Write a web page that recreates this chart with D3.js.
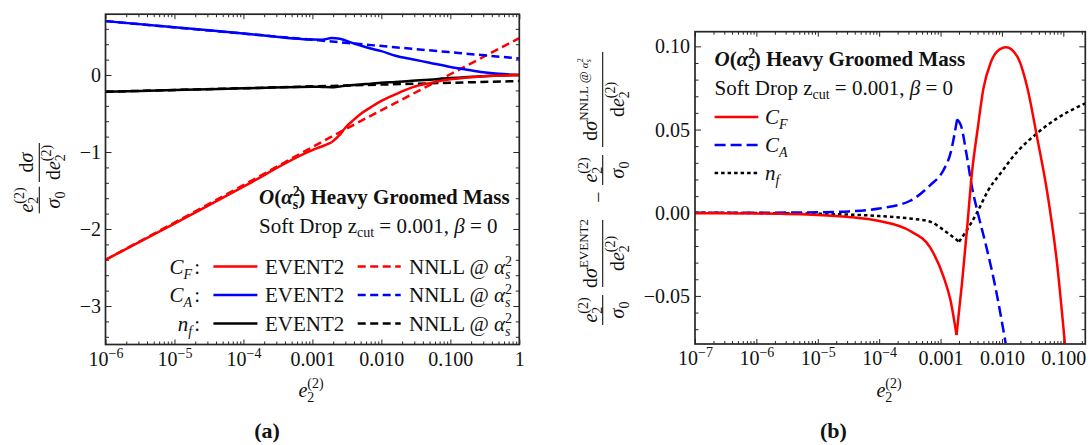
<!DOCTYPE html>
<html><head><meta charset="utf-8">
<script src="https://cdn.jsdelivr.net/npm/d3@7"></script>
<style>
body{margin:0;background:#fff;}
svg{display:block;}
</style></head><body>
<svg id="c" width="1088" height="445"></svg>
<script>
// ---------------- DATA ----------------
// Panel (a): e2 sample points and curves
const leftE2   = [1e-6, 1e-5, 1e-4, 0.001, 0.0014, 0.0019, 0.0025, 0.003, 0.004, 0.005, 0.007, 0.01, 0.016, 0.028, 0.05, 0.1, 0.16, 0.3, 0.5, 1];
const cfEvent2 = [-2.40, -1.93, -1.45, -0.975, -0.925, -0.875, -0.775, -0.685, -0.58, -0.505, -0.42, -0.335, -0.25, -0.16, -0.105, -0.055, -0.035, -0.015, -0.006, 0];
const caEvent2 = [0.70, 0.62, 0.54, 0.46, 0.458, 0.48, 0.47, 0.45, 0.41, 0.383, 0.345, 0.31, 0.25, 0.205, 0.16, 0.105, 0.075, 0.035, 0.015, 0];
const nfEvent2 = [-0.217, -0.195, -0.173, -0.152, -0.155, -0.158, -0.148, -0.14, -0.13, -0.122, -0.112, -0.10, -0.09, -0.075, -0.06, -0.04, -0.03, -0.015, -0.007, 0];
const nnllE2   = [1e-6, 1e-4, 0.0019, 0.1, 1];
const cfNnll   = [-2.40, -1.43, -0.80, 0.01, 0.48];
const caNnll   = [0.70, 0.538, 0.435, 0.296, 0.215];
const nfNnll   = [-0.217, -0.171, -0.141, -0.101, -0.078];

// Panel (b): EVENT2 - NNLL differences
const cfDiffE2 = [1e-7, 1e-6, 1e-5, 3.2e-5, 1e-4, 3.2e-4, 6.8e-4, 0.00112, 0.00145, 0.00182, 0.00224, 0.00269, 0.00324, 0.0040, 0.0050, 0.0065, 0.0083, 0.0117, 0.0178, 0.0257, 0.0372, 0.055, 0.079, 0.106];
const cfDiff   = [-0.0003, -0.0005, -0.0013, -0.0025, -0.005, -0.011, -0.021, -0.0385, -0.0525, -0.0735, -0.042, -0.0104, 0.0237, 0.0497, 0.0748, 0.0898, 0.0968, 0.0994, 0.0938, 0.0757, 0.0457, 0.0117, -0.0304, -0.0785];
const caDiffE2 = [1e-7, 1e-6, 1e-5, 3.2e-5, 1e-4, 3.2e-4, 6.8e-4, 0.00112, 0.00145, 0.00186, 0.00214, 0.00269, 0.00324, 0.0040, 0.0054, 0.0078, 0.0115];
const caDiff   = [0, 0, 0.0003, 0.0008, 0.0025, 0.0072, 0.0166, 0.0257, 0.0357, 0.0561, 0.0527, 0.0337, 0.0156, 0.0006, -0.0184, -0.0445, -0.0785];
const nfDiffE2 = [1e-7, 1e-6, 1e-5, 1e-4, 3.2e-4, 6.8e-4, 0.00112, 0.0020, 0.00269, 0.0040, 0.0060, 0.0095, 0.0178, 0.0372, 0.079, 0.228];
const nfDiff   = [0, -0.0002, -0.0006, -0.002, -0.0035, -0.0054, -0.0104, -0.0174, -0.0104, 0.0006, 0.0136, 0.0237, 0.0367, 0.0477, 0.0567, 0.0657];

// Tick values and labels
const leftXTicks  = [1e-6, 1e-5, 1e-4, 0.001, 0.01, 0.1, 1];
const leftXLabels = ['10^−6', '10^−5', '10^−4', '0.001', '0.010', '0.100', '1'];
const leftYTicks  = [-3, -2, -1, 0];
const leftYLabels = ['−3', '−2', '−1', '0'];
const rightXTicks  = [1e-7, 1e-6, 1e-5, 1e-4, 0.001, 0.01, 0.1];
const rightXLabels = ['10^−7', '10^−6', '10^−5', '10^−4', '0.001', '0.010', '0.100'];
const rightYTicks  = [-0.05, 0, 0.05, 0.10];
const rightYLabels = ['−0.05', '0.00', '0.05', '0.10'];

// ---------------- DRAWING ----------------
const SERIF = '"Liberation Serif","Times New Roman","DejaVu Serif",serif';
const INK = '#111';
const FRAME = '#262626';
const RED = '#ff0000', BLUE = '#0000ff', BLACK = '#000000';
const svg = d3.select('#c').attr('font-family', SERIF);

function rich(parent, x, y, parts, o = {}) {
  const t = parent.append('text').attr('x', x).attr('y', y)
    .attr('font-size', o.size || 20).attr('text-anchor', o.anchor || 'start')
    .attr('font-weight', o.weight || 'normal').attr('fill', INK);
  let rise = 0;
  parts.forEach(p => {
    const ts = t.append('tspan').text(p.t);
    const r = p.r || 0;
    if (r !== rise) { ts.attr('dy', r - rise); rise = r; }
    if (p.s) ts.attr('font-size', p.s);
    if (p.i) ts.attr('font-style', 'italic');
    if (p.b) ts.attr('font-weight', 'bold');
    if (p.dx) ts.attr('dx', p.dx);
  });
  return t;
}

function setLabel(textSel, str) {
  textSel.text(null);
  if (str.includes('^')) {
    const [b, e] = str.split('^');
    textSel.append('tspan').text(b);
    textSel.append('tspan').text(e).attr('font-size', 14).attr('dy', -8);
  } else textSel.text(str);
}

function minorLog(lo, hi) {
  const out = [];
  for (let d = Math.floor(Math.log10(lo)); d <= Math.ceil(Math.log10(hi)); d++)
    for (let m = 2; m <= 9; m++) { const v = m * Math.pow(10, d); if (v > lo && v < hi) out.push(v); }
  return out;
}

function panel(cfg) {
  const x = d3.scaleLog().domain(cfg.xDomain).range(cfg.xRange);
  const y = d3.scaleLinear().domain(cfg.yDomain).range(cfg.yRange);
  const [x0, x1] = cfg.xRange, [yb, yt] = cfg.yRange;
  const g = svg.append('g');
  const clipId = 'clip-' + cfg.name;
  svg.append('clipPath').attr('id', clipId).append('rect')
    .attr('x', x0).attr('y', yt).attr('width', x1 - x0).attr('height', yb - yt);

  const styleAxis = a => {
    a.select('.domain').remove();
    a.attr('font-family', SERIF).attr('font-size', 20);
    a.selectAll('line').attr('stroke', FRAME).attr('stroke-width', 1);
    a.selectAll('text').attr('fill', INK);
  };
  const xMinor = minorLog(cfg.xDomain[0], cfg.xDomain[1]);
  // bottom
  const bx = g.append('g').attr('transform', `translate(0,${yb})`)
    .call(d3.axisBottom(x).tickValues(cfg.xTicks).tickSizeInner(-5).tickSizeOuter(0).tickPadding(7)
      .tickFormat((d, i) => cfg.xLabels[i]));
  styleAxis(bx);
  bx.selectAll('text').each(function (d, i) { setLabel(d3.select(this), cfg.xLabels[i]); });
  g.append('g').attr('transform', `translate(0,${yb})`)
    .call(d3.axisBottom(x).tickValues(xMinor).tickSizeInner(-3).tickSizeOuter(0).tickFormat('')).call(styleAxis);
  // top
  g.append('g').attr('transform', `translate(0,${yt})`)
    .call(d3.axisTop(x).tickValues(cfg.xTicks).tickSizeInner(-5).tickSizeOuter(0).tickFormat('')).call(styleAxis);
  g.append('g').attr('transform', `translate(0,${yt})`)
    .call(d3.axisTop(x).tickValues(xMinor).tickSizeInner(-3).tickSizeOuter(0).tickFormat('')).call(styleAxis);
  // left
  const ly = g.append('g').attr('transform', `translate(${x0},0)`)
    .call(d3.axisLeft(y).tickValues(cfg.yTicks).tickSizeInner(-6).tickSizeOuter(0).tickPadding(cfg.yPad)
      .tickFormat((d, i) => cfg.yLabels[i]));
  styleAxis(ly);
  ly.selectAll('text').attr('dy', '0.33em');
  g.append('g').attr('transform', `translate(${x0},0)`)
    .call(d3.axisLeft(y).tickValues(cfg.yMinor).tickSizeInner(-3.5).tickSizeOuter(0).tickFormat('')).call(styleAxis);
  // right
  g.append('g').attr('transform', `translate(${x1},0)`)
    .call(d3.axisRight(y).tickValues(cfg.yTicks).tickSizeInner(-6).tickSizeOuter(0).tickFormat('')).call(styleAxis);
  g.append('g').attr('transform', `translate(${x1},0)`)
    .call(d3.axisRight(y).tickValues(cfg.yMinor).tickSizeInner(-3.5).tickSizeOuter(0).tickFormat('')).call(styleAxis);

  const plot = g.append('g').attr('clip-path', `url(#${clipId})`);
  const line = d3.line().x(d => x(d[0])).y(d => y(d[1])).curve(d3.curveMonotoneX);
  cfg.series.forEach(s => {
    const pts = s.xs.map((v, i) => [v, s.ys[i]]);
    const segs = [];
    let start = 0;
    (s.kinks || []).forEach(k => { segs.push(pts.slice(start, k + 1)); start = k; });
    segs.push(pts.slice(start));
    segs.forEach(seg => plot.append('path').attr('d', line(seg)).attr('fill', 'none')
      .attr('stroke', s.color).attr('stroke-width', 2.5).attr('stroke-dasharray', s.dash || null)
      .attr('stroke-linejoin', 'round'));
  });

  g.append('rect').attr('x', x0).attr('y', yt).attr('width', x1 - x0).attr('height', yb - yt)
    .attr('fill', 'none').attr('stroke', FRAME).attr('stroke-width', 1.7);
  return { g, x, y };
}

function range(a, b, step) { const o = []; for (let v = a; v <= b + 1e-9; v += step) o.push(+v.toFixed(4)); return o; }

// ---- Panel (a)
const A = panel({
  name: 'a', xDomain: [1e-6, 1], xRange: [105.5, 519.3], yDomain: [-3.5, 0.79], yRange: [344.5, 14.2],
  xTicks: leftXTicks, xLabels: leftXLabels, yTicks: leftYTicks, yLabels: leftYLabels, yPad: 4.5,
  yMinor: range(-3.4, 0.6, 0.2).filter(v => Math.abs(v - Math.round(v)) > 1e-6),
  series: [
    { xs: nnllE2, ys: cfNnll, color: RED, dash: '8,4.5' },
    { xs: nnllE2, ys: caNnll, color: BLUE, dash: '8,4.5' },
    { xs: nnllE2, ys: nfNnll, color: BLACK, dash: '8,4.5' },
    { xs: leftE2, ys: caEvent2, color: BLUE },
    { xs: leftE2, ys: nfEvent2, color: BLACK },
    { xs: leftE2, ys: cfEvent2, color: RED, kinks: [5] },
  ]
});

// ---- Panel (b)
const B = panel({
  name: 'b', xDomain: [1e-7, 0.228], xRange: [695, 1085.3], yDomain: [-0.0789, 0.1088], yRange: [344, 31.7],
  xTicks: rightXTicks, xLabels: rightXLabels, yTicks: rightYTicks, yLabels: rightYLabels, yPad: 5,
  yMinor: range(-0.07, 0.10, 0.01).filter(v => Math.abs(v * 20 - Math.round(v * 20)) > 1e-6),
  series: [
    { xs: nfDiffE2, ys: nfDiff, color: BLACK, dash: '3.5,3', kinks: [7] },
    { xs: caDiffE2, ys: caDiff, color: BLUE, dash: '11,5', kinks: [9] },
    { xs: cfDiffE2, ys: cfDiff, color: RED, kinks: [9] },
  ]
});

// ---------------- TEXT ----------------
const titleParts = [
  { t: 'O', i: 1 }, { t: '(' }, { t: 'α', i: 1 }, { t: '2', r: -8, s: 14 }, { t: 's', r: 5, s: 14, dx: -7 },
  { t: ') Heavy Groomed Mass', r: 0 }];
const sdParts = [{ t: 'Soft Drop z' }, { t: 'cut', r: 4, s: 14 }, { t: ' = 0.001, ', r: 0 }, { t: 'β', i: 1 }, { t: ' = 0' }];

rich(svg, 259, 204, titleParts, { weight: 'bold', size: 21 });
rich(svg, 259, 233, sdParts, { size: 21 });
rich(svg, 714.5, 66, titleParts, { weight: 'bold', size: 21 });
rich(svg, 714.5, 95, sdParts, { size: 21 });

// Legend (a)
const legA = [
  { lab: 'C', sub: 'F', color: RED, y: 266.5 },
  { lab: 'C', sub: 'A', color: BLUE, y: 295 },
  { lab: 'n', sub: 'f', color: BLACK, y: 323.5 }];
const alphaS2 = [{ t: 'NNLL @ ' }, { t: 'α', i: 1 }, { t: '2', r: -8, s: 14 }, { t: 's', i: 1, r: 5, s: 14, dx: -7 }];
legA.forEach(r => {
  rich(svg, 200, r.y + 7, [{ t: r.lab, i: 1 }, { t: r.sub, i: 1, r: 5, s: 14 }, { t: ':', r: 0, dx: 2 }], { anchor: 'end', size: 21 });
  svg.append('line').attr('x1', 213.4).attr('x2', 257.4).attr('y1', r.y).attr('y2', r.y)
    .attr('stroke', r.color).attr('stroke-width', 2.5);
  rich(svg, 265, r.y + 7, [{ t: 'EVENT2' }], { size: 21 });
  svg.append('line').attr('x1', 357.7).attr('x2', 400.7).attr('y1', r.y).attr('y2', r.y)
    .attr('stroke', r.color).attr('stroke-width', 2.5).attr('stroke-dasharray', '8,4.5');
  rich(svg, 409, r.y + 7, alphaS2, { size: 21 });
});

// Legend (b)
const legB = [
  { lab: 'C', sub: 'F', color: RED, dash: null, y: 117 },
  { lab: 'C', sub: 'A', color: BLUE, dash: '11,5', y: 145 },
  { lab: 'n', sub: 'f', color: BLACK, dash: '3.5,3', y: 173 }];
legB.forEach(r => {
  svg.append('line').attr('x1', 714.6).attr('x2', 758.3).attr('y1', r.y).attr('y2', r.y)
    .attr('stroke', r.color).attr('stroke-width', 2.5).attr('stroke-dasharray', r.dash);
  rich(svg, 765, r.y + 7, [{ t: r.lab, i: 1 }, { t: r.sub, i: 1, r: 5, s: 14 }], { size: 21 });
});

// x-axis titles
const e22 = [{ t: 'e', i: 1 }, { t: '2', r: 5, s: 14 }, { t: '(2)', r: -9, s: 14, dx: -7 }];
rich(svg, 311, 397, e22, { anchor: 'middle' });
rich(svg, 889, 397, e22, { anchor: 'middle' });

// panel letters
rich(svg, 267, 438, [{ t: '(a)' }], { anchor: 'middle', weight: 'bold', size: 22 });
rich(svg, 833.5, 438, [{ t: '(b)' }], { anchor: 'middle', weight: 'bold', size: 22 });

// y-axis titles (rotated fractions)
function frac(g, u, num, den, len) {
  g.append('line').attr('x1', u - len / 2).attr('x2', u + len / 2).attr('y1', 0).attr('y2', 0)
    .attr('stroke', INK).attr('stroke-width', 1.1);
  rich(g, u, -6, num, { anchor: 'middle' });
  rich(g, u, 21, den, { anchor: 'middle' });
}
const sig0 = [{ t: 'σ', i: 1 }, { t: '0', r: 5, s: 14 }];
const de22 = [{ t: 'd' }, { t: 'e', i: 1 }, { t: '2', r: 5, s: 14 }, { t: '(2)', r: -9, s: 14, dx: -7 }];
const gl = svg.append('g').attr('transform', 'translate(39.3,178) rotate(-90)');
frac(gl, -22, e22, sig0, 26.6);
frac(gl, 15.5, [{ t: 'd' }, { t: 'σ', i: 1 }], de22, 39);

const gr = svg.append('g').attr('transform', 'translate(602.7,200) rotate(-90)');
frac(gr, -110, e22, sig0, 30);
frac(gr, -53.5, [{ t: 'd' }, { t: 'σ', i: 1 }, { t: 'EVENT2', r: -9, s: 13 }], de22, 67);
rich(gr, 3, 2.5, [{ t: '−' }], { anchor: 'middle' });
frac(gr, 30, e22, sig0, 30);
frac(gr, 100.5, [{ t: 'd' }, { t: 'σ', i: 1 }, { t: 'NNLL @ ', r: -9, s: 13 }, { t: 'α', i: 1, r: -9, s: 11 },
  { t: '2', r: -14, s: 8 }, { t: 's', i: 1, r: -6, s: 8, dx: -4 }], de22, 95);
</script>
</body></html>
